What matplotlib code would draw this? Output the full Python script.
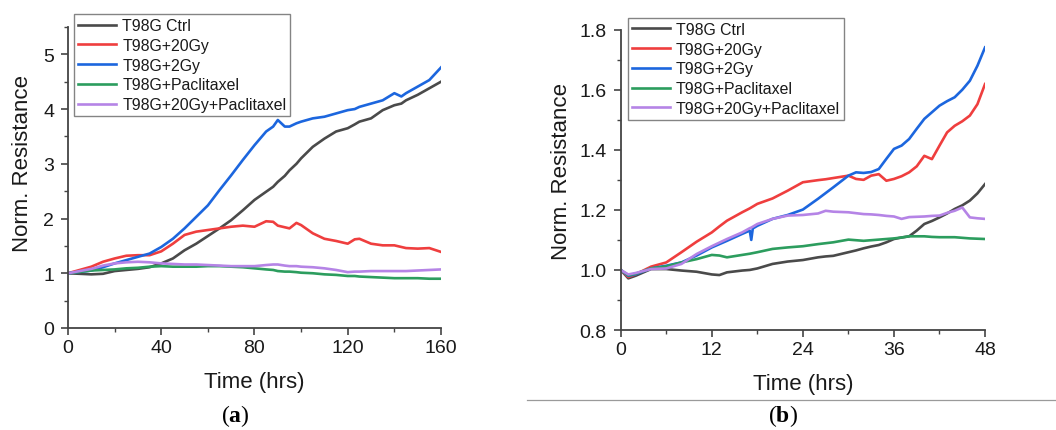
import matplotlib
matplotlib.use('Agg')
import matplotlib.pyplot as plt
from matplotlib.lines import Line2D
from matplotlib.ticker import MultipleLocator

plt.rcParams['font.family'] = ['Liberation Sans', 'DejaVu Sans']
plt.rcParams['mathtext.fontset'] = 'custom'
plt.rcParams['mathtext.rm'] = 'Liberation Serif'
plt.rcParams['mathtext.bf'] = 'Liberation Serif:bold'

labels = ['T98G Ctrl', 'T98G+20Gy', 'T98G+2Gy', 'T98G+Paclitaxel', 'T98G+20Gy+Paclitaxel']
colors = ['#4a4a4a', '#ef3e3e', '#1c66de', '#2c9d5e', '#b584e6']

# (a) 160 h
t_a = [0, 10, 15, 20, 25, 30, 35, 40, 45, 50, 55, 60, 65, 70, 75, 80, 85, 88, 90,
       93, 95, 98, 100, 105, 110, 115, 120, 123, 125, 130, 135, 140, 143, 145, 150, 155, 160]
ctrl_a = [1.00, 0.98, 0.99, 1.04, 1.06, 1.08, 1.11, 1.18, 1.27, 1.42, 1.54, 1.68, 1.82, 1.97, 2.15,
          2.34, 2.49, 2.58, 2.67, 2.78, 2.88, 3.00, 3.10, 3.31, 3.46, 3.59, 3.65, 3.72, 3.77, 3.83,
          3.98, 4.07, 4.10, 4.16, 4.26, 4.38, 4.50]
gy20_a = [1.00, 1.12, 1.21, 1.27, 1.32, 1.33, 1.33, 1.40, 1.54, 1.70, 1.76, 1.79, 1.82, 1.85, 1.87,
          1.85, 1.95, 1.94, 1.87, 1.84, 1.82, 1.92, 1.88, 1.73, 1.63, 1.59, 1.54, 1.62, 1.63, 1.54,
          1.51, 1.51, 1.48, 1.46, 1.45, 1.46, 1.39]
gy2_a = [1.00, 1.05, 1.11, 1.18, 1.24, 1.30, 1.36, 1.48, 1.63, 1.82, 2.03, 2.24, 2.52, 2.79, 3.07,
         3.34, 3.59, 3.68, 3.80, 3.68, 3.68, 3.74, 3.77, 3.83, 3.86, 3.92, 3.98, 4.00, 4.04, 4.10,
         4.16, 4.29, 4.23, 4.29, 4.41, 4.53, 4.76]
pac_a = [1.00, 1.05, 1.06, 1.07, 1.09, 1.10, 1.12, 1.13, 1.12, 1.12, 1.12, 1.13, 1.13, 1.12, 1.11,
         1.09, 1.07, 1.06, 1.04, 1.03, 1.03, 1.02, 1.01, 1.00, 0.98, 0.97, 0.95, 0.95, 0.94, 0.93,
         0.92, 0.91, 0.91, 0.91, 0.91, 0.90, 0.90]
combo_a = [1.00, 1.08, 1.14, 1.18, 1.20, 1.21, 1.20, 1.18, 1.17, 1.16, 1.16, 1.15, 1.14, 1.13, 1.13,
           1.13, 1.15, 1.16, 1.16, 1.14, 1.13, 1.13, 1.12, 1.11, 1.09, 1.06, 1.02, 1.03, 1.03, 1.04,
           1.04, 1.04, 1.04, 1.04, 1.05, 1.06, 1.07]

# (b) 48 h
t_b = [0, 1, 2, 4, 6, 8, 10, 12, 13, 14, 16, 17, 17.2, 17.4, 18, 20, 22, 24, 26, 27, 28, 30, 31,
       32, 33, 34, 35, 36, 37, 38, 39, 40, 41, 42, 43, 44, 45, 46, 47, 48]
ctrl_b = [1.000, 0.972, 0.981, 1.003, 1.003, 0.998, 0.994, 0.985, 0.983, 0.992, 0.998, 1.000,
          1.001, 1.002, 1.005, 1.020, 1.028, 1.033, 1.042, 1.045, 1.047, 1.059, 1.065, 1.072,
          1.078, 1.083, 1.092, 1.103, 1.108, 1.112, 1.131, 1.153, 1.163, 1.175, 1.188, 1.203,
          1.215, 1.231, 1.255, 1.286]
gy20_b = [1.000, 0.976, 0.986, 1.011, 1.025, 1.059, 1.094, 1.125, 1.145, 1.164, 1.192, 1.205,
          1.208, 1.211, 1.220, 1.238, 1.264, 1.292, 1.299, 1.302, 1.306, 1.314, 1.303, 1.300,
          1.314, 1.319, 1.297, 1.303, 1.312, 1.325, 1.345, 1.380, 1.369, 1.414, 1.458, 1.480,
          1.495, 1.514, 1.552, 1.619]
gy2_b = [1.000, 0.980, 0.986, 1.005, 1.014, 1.025, 1.048, 1.075, 1.086, 1.097, 1.120, 1.131,
         1.100, 1.138, 1.147, 1.170, 1.183, 1.201, 1.237, 1.256, 1.275, 1.314, 1.325, 1.323,
         1.326, 1.336, 1.370, 1.403, 1.414, 1.436, 1.470, 1.503, 1.525, 1.547, 1.562, 1.575,
         1.600, 1.630, 1.680, 1.741]
pac_b = [1.000, 0.982, 0.988, 1.005, 1.012, 1.025, 1.036, 1.050, 1.048, 1.042, 1.050, 1.054,
         1.055, 1.056, 1.059, 1.070, 1.075, 1.079, 1.086, 1.089, 1.092, 1.101, 1.099, 1.097,
         1.099, 1.101, 1.103, 1.105, 1.108, 1.112, 1.112, 1.112, 1.110, 1.109, 1.109, 1.109,
         1.107, 1.105, 1.104, 1.103]
combo_b = [1.000, 0.985, 0.990, 1.003, 1.005, 1.020, 1.053, 1.079, 1.091, 1.103, 1.125, 1.139,
           1.141, 1.144, 1.153, 1.170, 1.181, 1.183, 1.188, 1.197, 1.194, 1.192, 1.189, 1.186,
           1.185, 1.183, 1.180, 1.178, 1.170, 1.176, 1.177, 1.178, 1.180, 1.181, 1.190, 1.197,
           1.208, 1.175, 1.172, 1.170]

fig = plt.figure(figsize=(10.56, 4.31), dpi=100)
ax_a = fig.add_axes([0.0644, 0.2367, 0.3532, 0.6984])
ax_b = fig.add_axes([0.5878, 0.2320, 0.3450, 0.6968])

spine_col = '#444444'


def style_axes(ax):
    ax.spines['top'].set_visible(False)
    ax.spines['right'].set_visible(False)
    for s in ['left', 'bottom']:
        ax.spines[s].set_color(spine_col)
        ax.spines[s].set_linewidth(1.3)
    ax.tick_params(which='major', direction='out', length=5, width=1.2, colors=spine_col,
                   labelcolor='#1a1a1a', labelsize=14, pad=3)
    ax.tick_params(which='minor', direction='out', length=3, width=1.0, colors=spine_col)
    ax.tick_params(axis='y', which='major', pad=5)
    ax.set_xlabel('Time (hrs)', fontsize=16, color='#1a1a1a', labelpad=11)
    ax.set_ylabel('Norm. Resistance', fontsize=16, color='#1a1a1a')


series_a = [ctrl_a, gy20_a, gy2_a, pac_a, combo_a]
series_b = [ctrl_b, gy20_b, gy2_b, pac_b, combo_b]

for ys, c, lab in zip(series_a, colors, labels):
    ax_a.plot(t_a, ys, color=c, lw=1.9, label=lab)
for ys, c, lab in zip(series_b, colors, labels):
    ax_b.plot(t_b, ys, color=c, lw=1.9, label=lab)

style_axes(ax_a)
ax_a.set_xlim(0, 160)
ax_a.set_ylim(0, 5.5)
ax_a.set_xticks([0, 40, 80, 120, 160])
ax_a.set_yticks([0, 1, 2, 3, 4, 5])
ax_a.xaxis.set_minor_locator(MultipleLocator(20))
ax_a.yaxis.set_minor_locator(MultipleLocator(0.5))
ax_a.yaxis.set_label_coords(-0.094, 0.55)

style_axes(ax_b)
ax_b.set_xlim(0, 48)
ax_b.set_ylim(0.8, 1.8)
ax_b.set_xticks([0, 12, 24, 36, 48])
ax_b.set_yticks([0.8, 1.0, 1.2, 1.4, 1.6, 1.8])
ax_b.set_yticklabels(['0.8', '1.0', '1.2', '1.4', '1.6', '1.8'])
ax_b.xaxis.set_minor_locator(MultipleLocator(6))
ax_b.yaxis.set_minor_locator(MultipleLocator(0.1))
ax_b.yaxis.set_label_coords(-0.134, 0.53)

leg_kw = dict(loc='upper left', bbox_transform=fig.transFigure, borderaxespad=0,
              fontsize=11.4, frameon=True, fancybox=False, handlelength=2.4,
              handletextpad=0.4, labelspacing=0.3, borderpad=0.25)
la = ax_a.legend(bbox_to_anchor=(0.0701, 0.965), **leg_kw)
lb = ax_b.legend(bbox_to_anchor=(0.5944, 0.956), **leg_kw)
for lg in (la, lb):
    lg.get_frame().set_edgecolor('#666666')
    lg.get_frame().set_linewidth(1.0)
    for txt in lg.get_texts():
        txt.set_color('#1a1a1a')

fig.text(0.2225, 0.035, r'$\mathrm{(}\mathbf{a}\mathrm{)}$', fontsize=17, ha='center', va='center')
fig.text(0.7415, 0.035, r'$\mathrm{(}\mathbf{b}\mathrm{)}$', fontsize=17, ha='center', va='center')

fig.add_artist(Line2D([527 / 1056, 1.0], [1 - 401 / 431, 1 - 401 / 431],
                      transform=fig.transFigure, color='#9a9a9a', lw=0.9))

fig.savefig('out.png', dpi=100)
